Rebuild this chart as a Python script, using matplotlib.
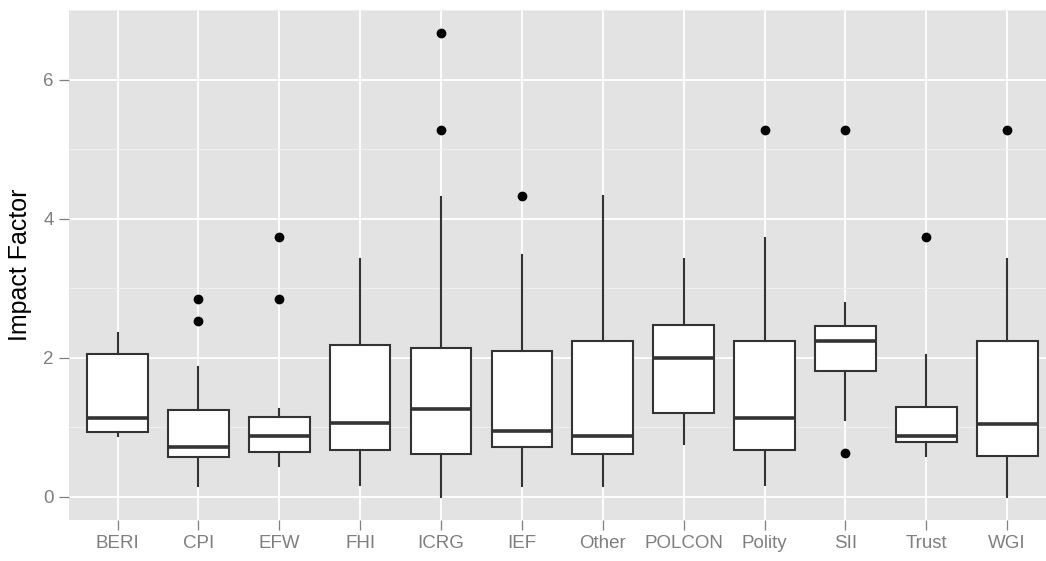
import matplotlib
matplotlib.use("Agg")
import matplotlib.pyplot as plt
from matplotlib.ticker import MultipleLocator

categories = ["BERI", "CPI", "EFW", "FHI", "ICRG", "IEF", "Other", "POLCON",
              "Polity", "SII", "Trust", "WGI"]
whisker_low = [0.87, 0.16, 0.44, 0.17, 0.00, 0.16, 0.16, 0.76, 0.17, 1.11, 0.59, 0.00]
q1          = [0.93, 0.57, 0.65, 0.67, 0.61, 0.72, 0.61, 1.21, 0.67, 1.81, 0.79, 0.59]
median      = [1.13, 0.72, 0.87, 1.06, 1.26, 0.94, 0.87, 2.00, 1.13, 2.24, 0.87, 1.04]
q3          = [2.05, 1.25, 1.14, 2.18, 2.14, 2.09, 2.24, 2.47, 2.24, 2.46, 1.29, 2.24]
whisker_high= [2.35, 1.87, 1.26, 3.42, 4.31, 3.48, 4.32, 3.42, 3.72, 2.78, 2.04, 3.42]
outliers    = [[], [2.85, 2.53], [3.73, 2.85], [], [6.67, 5.28], [4.33], [], [],
               [5.28], [5.28, 0.63], [3.73], [5.28]]

stats = []
for i, c in enumerate(categories):
    stats.append(dict(label=c, whislo=whisker_low[i], q1=q1[i], med=median[i],
                      q3=q3[i], whishi=whisker_high[i], fliers=outliers[i]))

fig = plt.figure(figsize=(10.46, 5.61), dpi=100)
ax = fig.add_axes([69/1046, 41/561, 1 - 69/1046, 510/561])
ax.set_facecolor("#E3E3E3")

line_c = "#333333"
ax.bxp(stats, positions=range(1, len(categories) + 1), widths=0.75,
       showcaps=False, patch_artist=True,
       boxprops=dict(facecolor="white", edgecolor=line_c, linewidth=1.5),
       medianprops=dict(color=line_c, linewidth=2.6, solid_capstyle="butt"),
       whiskerprops=dict(color=line_c, linewidth=1.5),
       flierprops=dict(marker="o", markerfacecolor="black", markeredgecolor="black",
                       markersize=6, linestyle="none"),
       zorder=3)

ax.set_xlim(0.4, 12.48)
ax.set_ylim(-0.335, 7.0)
ax.yaxis.set_major_locator(MultipleLocator(2))
ax.yaxis.set_minor_locator(MultipleLocator(1))
ax.set_xticks(range(1, len(categories) + 1))
ax.set_xticklabels(categories)

ax.grid(which="major", color="white", linewidth=1.3, zorder=0)
ax.grid(which="minor", axis="y", color="#F2F2F2", linewidth=0.6, zorder=0)
ax.set_axisbelow(True)
for s in ax.spines.values():
    s.set_visible(False)

ax.tick_params(which="major", length=7, width=0.9, color="#7F7F7F",
               labelcolor="#7F7F7F", labelsize=13.5, pad=4)
ax.tick_params(which="minor", length=0)
for lab in ax.get_xticklabels() + ax.get_yticklabels():
    lab.set_family("Liberation Sans")

ax.set_ylabel("Impact Factor", fontsize=18, family="Liberation Sans", color="black",
              labelpad=8)

fig.savefig("out.png", dpi=100)
